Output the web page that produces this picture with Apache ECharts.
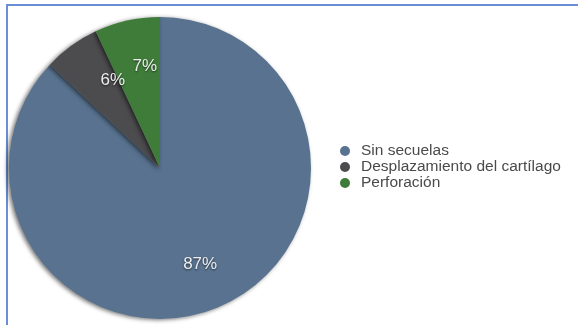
<!DOCTYPE html>
<html>
<head>
<meta charset="utf-8">
<script src="https://cdn.jsdelivr.net/npm/echarts@6/dist/echarts.min.js"></script>
<style>
html,body{margin:0;padding:0;background:#fff;overflow:hidden;}
#frame{position:absolute;left:6px;top:4px;width:580px;height:330px;border-top:2px solid #6b8fd6;border-left:2px solid #6b8fd6;}
#chart{position:absolute;left:0;top:0;width:578px;height:325px;}
</style>
</head>
<body>
<div id="frame"></div>
<div id="chart"></div>
<script>
const categories = ["Sin secuelas", "Desplazamiento del cartílago", "Perforación"];
const values = [87, 6, 7];
const colors = ["#58728f", "#4c4c4f", "#3f7c3a"];
const labelOffsets = [[9, 24], [-1, -24], [2, -25]];

const chart = echarts.init(document.getElementById('chart'), null, {renderer: 'canvas'});
chart.setOption({
  animation: false,
  legend: {
    orient: 'vertical',
    left: 335,
    top: 138,
    itemWidth: 10,
    itemHeight: 10,
    itemGap: 0,
    icon: 'circle',
    data: categories,
    textStyle: {color: '#4a4a4a', fontSize: 15.5, lineHeight: 16, fontFamily: 'Liberation Sans, Arial, sans-serif', padding: [0,0,0,6]}
  },
  series: [{
    type: 'pie',
    center: [160, 168],
    radius: 151,
    startAngle: 90,
    clockwise: true,
    data: categories.map((c, i) => ({name: c, value: values[i], itemStyle: {color: colors[i]}, label: {offset: labelOffsets[i]}})),
    itemStyle: {shadowColor: 'rgba(0,0,0,0.55)', shadowBlur: 4, shadowOffsetX: -2, shadowOffsetY: 1},
    label: {
      show: true,
      position: 'inside',
      formatter: '{c}%',
      color: '#eeeeee',
      fontSize: 17,
      fontFamily: 'Liberation Sans, Arial, sans-serif',
      textShadowColor: 'rgba(0,0,0,0.6)',
      textShadowBlur: 2,
      textShadowOffsetY: 1
    },
    labelLine: {show: false},
    emphasis: {disabled: true}
  }]
});
</script>
</body>
</html>
